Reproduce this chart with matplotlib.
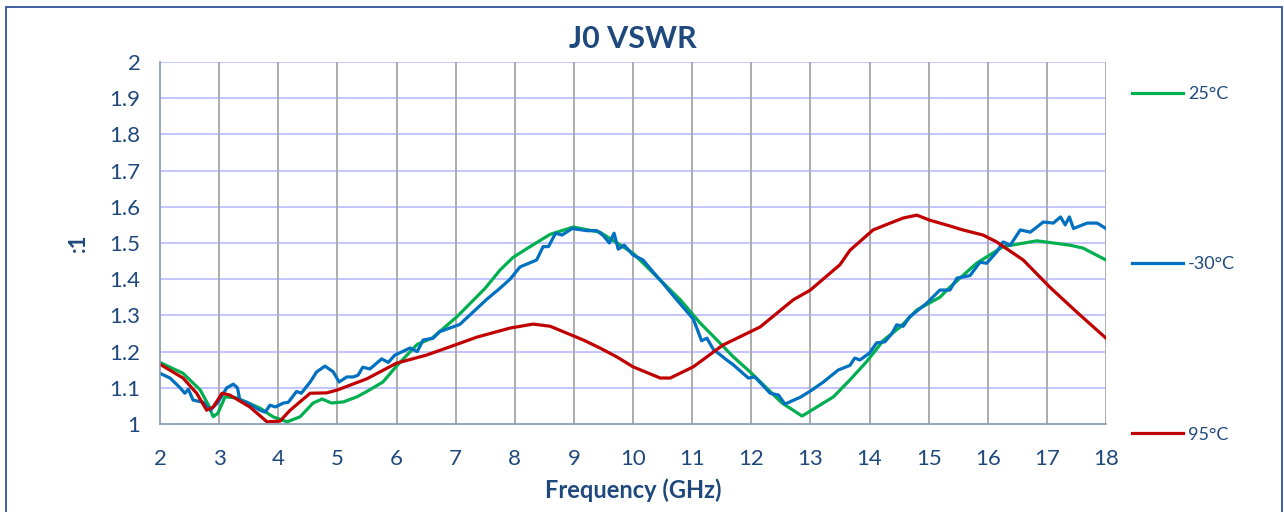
import matplotlib
matplotlib.use('Agg')
import matplotlib.pyplot as plt
from matplotlib.patches import Rectangle

# frequency (GHz) / VSWR
f_25 = [2.0, 2.39, 2.68, 2.82, 2.9, 2.98, 3.1, 3.3, 3.69, 3.91, 4.15, 4.37, 4.59, 4.74, 4.9, 5.1,
        5.33, 5.5, 5.77, 6.0, 6.35, 6.6, 7.02, 7.5, 7.75, 7.97, 8.26, 8.6, 8.99, 9.44, 10.0,
        10.57, 10.8, 11.13, 11.42, 11.7, 11.98, 12.52, 12.86, 13.39, 13.67, 13.95, 14.24, 14.52,
        14.8, 15.19, 15.36, 15.81, 16.26, 16.83, 17.39, 17.61, 18.0]
v_25 = [1.17, 1.14, 1.094, 1.052, 1.02, 1.03, 1.075, 1.072, 1.044, 1.02, 1.006, 1.02, 1.058, 1.069,
        1.058, 1.061, 1.075, 1.09, 1.116, 1.16, 1.22, 1.237, 1.296, 1.375, 1.425, 1.46, 1.49,
        1.524, 1.544, 1.53, 1.472, 1.38, 1.343, 1.28, 1.232, 1.185, 1.144, 1.058, 1.022, 1.075,
        1.122, 1.172, 1.232, 1.268, 1.315, 1.35, 1.378, 1.444, 1.49, 1.506, 1.494, 1.486, 1.453]

f_m30 = [2.0, 2.17, 2.34, 2.42, 2.48, 2.56, 2.73, 2.85, 2.98, 3.13, 3.24, 3.31, 3.35, 3.47, 3.69,
         3.78, 3.86, 3.95, 4.09, 4.17, 4.31, 4.39, 4.54, 4.65, 4.79, 4.93, 5.03, 5.16, 5.27, 5.35,
         5.43, 5.55, 5.75, 5.86, 5.97, 6.23, 6.35, 6.45, 6.62, 6.73, 7.07, 7.53, 7.75, 7.92, 8.09,
         8.37, 8.48, 8.57, 8.69, 8.8, 8.97, 9.22, 9.39, 9.5, 9.6, 9.68, 9.75, 9.85, 10.0, 10.17,
         10.34, 10.5, 10.74, 11.02, 11.16, 11.25, 11.36, 11.6, 11.7, 11.95, 12.06, 12.32, 12.46,
         12.57, 12.83, 13.0, 13.22, 13.47, 13.67, 13.75, 13.84, 14.0, 14.12, 14.26, 14.38, 14.46,
         14.57, 14.68, 14.97, 15.19, 15.36, 15.48, 15.7, 15.87, 15.98, 16.15, 16.26, 16.38,
         16.55, 16.72, 16.94, 17.11, 17.23, 17.31, 17.38, 17.45, 17.68, 17.85, 18.0]
v_m30 = [1.14, 1.127, 1.10, 1.085, 1.096, 1.066, 1.06, 1.038, 1.06, 1.10, 1.11, 1.10, 1.066, 1.06,
         1.038, 1.033, 1.052, 1.047, 1.058, 1.06, 1.09, 1.085, 1.116, 1.144, 1.16, 1.144, 1.116,
         1.13, 1.13, 1.135, 1.157, 1.152, 1.18, 1.17, 1.19, 1.21, 1.20, 1.232, 1.237, 1.255,
         1.275, 1.345, 1.375, 1.40, 1.434, 1.453, 1.49, 1.49, 1.527, 1.522, 1.54, 1.534, 1.534,
         1.52, 1.50, 1.527, 1.483, 1.494, 1.467, 1.453, 1.42, 1.39, 1.343, 1.29, 1.23, 1.237,
         1.206, 1.175, 1.163, 1.127, 1.13, 1.085, 1.08, 1.055, 1.074, 1.091, 1.116, 1.149, 1.162,
         1.182, 1.177, 1.196, 1.224, 1.227, 1.25, 1.274, 1.27, 1.296, 1.334, 1.37, 1.37, 1.403,
         1.41, 1.447, 1.444, 1.475, 1.503, 1.494, 1.536, 1.53, 1.558, 1.555, 1.572, 1.55, 1.572,
         1.54, 1.555, 1.555, 1.54]

f_95 = [2.0, 2.39, 2.62, 2.79, 2.9, 3.05, 3.18, 3.52, 3.81, 4.03, 4.2, 4.54, 4.82, 5.0, 5.5, 6.0,
        6.5, 6.9, 7.36, 7.92, 8.31, 8.6, 9.16, 9.44, 9.73, 10.0, 10.46, 10.63, 11.02, 11.52, 12.15,
        12.71, 13.0, 13.5, 13.67, 14.06, 14.35, 14.57, 14.8, 15.02, 15.36, 15.58, 15.92, 16.15,
        16.6, 17.05, 17.5, 18.0]
v_95 = [1.165, 1.127, 1.085, 1.038, 1.047, 1.085, 1.08, 1.047, 1.006, 1.008, 1.038, 1.085, 1.086,
        1.094, 1.125, 1.168, 1.19, 1.213, 1.24, 1.265, 1.276, 1.27, 1.232, 1.21, 1.185, 1.158,
        1.127, 1.127, 1.158, 1.218, 1.268, 1.343, 1.37, 1.44, 1.48, 1.536, 1.555, 1.569, 1.577,
        1.563, 1.547, 1.536, 1.522, 1.503, 1.453, 1.378, 1.31, 1.237]

x_ticks = list(range(2, 19))
y_ticks = [1, 1.1, 1.2, 1.3, 1.4, 1.5, 1.6, 1.7, 1.8, 1.9, 2]

txt = '#1F497D'
plt.rcParams['font.family'] = ['Lato', 'DejaVu Sans']

fig = plt.figure(figsize=(12.84, 5.12), dpi=100)
ax = fig.add_axes([160 / 1284, 1 - 424 / 512, 946 / 1284, 362 / 512])

ax.plot(f_25, v_25, color='#00B050', lw=2.3, label='25°C')
ax.plot(f_m30, v_m30, color='#0070C0', lw=2.3, label='-30°C')
ax.plot(f_95, v_95, color='#C00000', lw=2.3, label='95°C')

ax.set_xlim(2, 18)
ax.set_ylim(1, 2)
ax.set_xticks(x_ticks)
ax.set_yticks(y_ticks)
ax.set_yticklabels([('%g' % y) for y in y_ticks])
ax.tick_params(length=0, labelsize=16, colors=txt)
ax.tick_params(axis='x', pad=18)
ax.tick_params(axis='y', pad=14)
for y in y_ticks[1:]:
    ax.axhline(y, color='#C0C0FF', lw=1.3, zorder=0)
for x in x_ticks[1:]:
    ax.axvline(x, color='#A6A6A6', lw=1.3, zorder=0)
for s in ['top', 'right']:
    ax.spines[s].set_visible(False)
for s in ['left', 'bottom']:
    ax.spines[s].set_color('#8497B0')
    ax.spines[s].set_linewidth(1.2)

ax.set_title('J0 VSWR', fontsize=22, fontweight='bold', color=txt, pad=10)
ax.set_xlabel('Frequency (GHz)', fontsize=17, fontweight='bold', color=txt, labelpad=7)
ax.set_ylabel(':1', fontsize=16, fontweight='bold', color=txt, labelpad=15)

leg = fig.legend(loc='upper left', bbox_to_anchor=(1132 / 1284, 1 - 86 / 512), frameon=False,
                 fontsize=13, labelspacing=8.55, handlelength=2.8, handletextpad=0.3,
                 borderpad=0, borderaxespad=0)
for t in leg.get_texts():
    t.set_color(txt)

fig.patches.append(Rectangle((6 / 1284, -0.01), 1276 / 1284, 1 - 7 / 512 + 0.01,
                             transform=fig.transFigure, fill=False, edgecolor='#2F5597', lw=1.3))

fig.savefig('out.png', dpi=100)
